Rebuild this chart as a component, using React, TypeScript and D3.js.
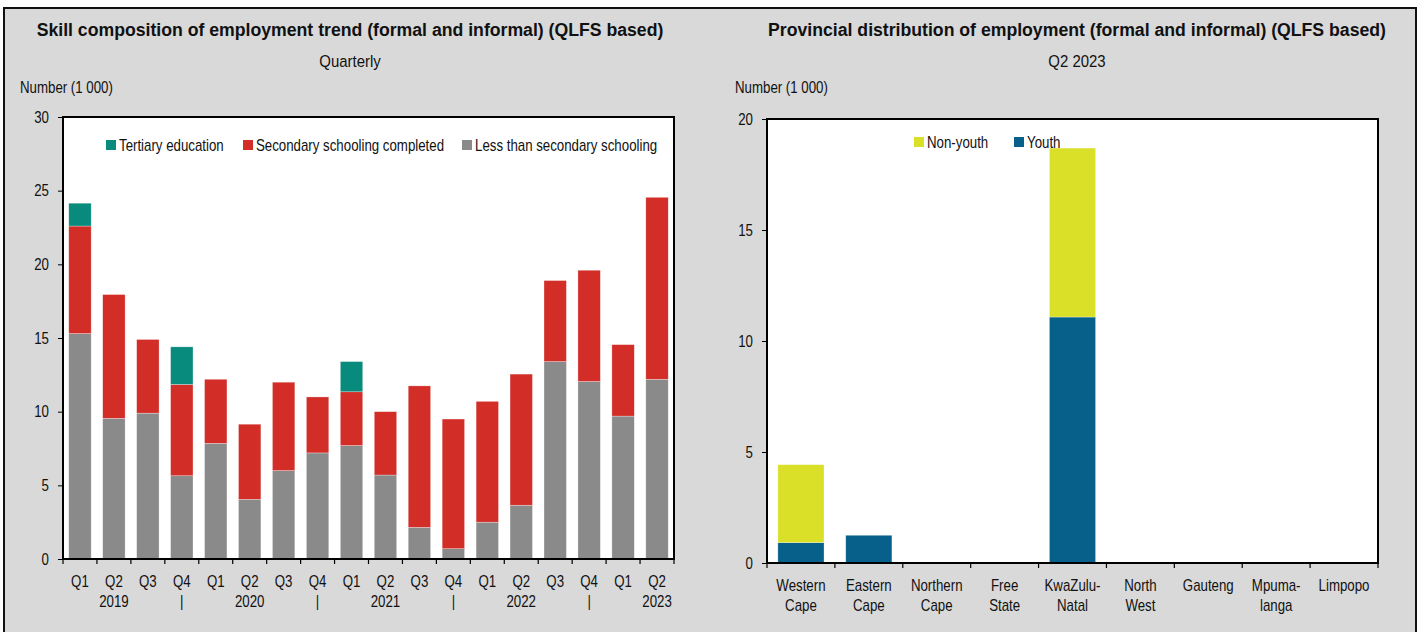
import * as d3 from "d3";
import { useEffect, useRef } from "react";

// ---- left chart data (number, thousands) ----
const quarterLabels = ["Q1", "Q2", "Q3", "Q4", "Q1", "Q2", "Q3", "Q4", "Q1", "Q2", "Q3", "Q4", "Q1", "Q2", "Q3", "Q4", "Q1", "Q2"];
const yearLabels = ["", "2019", "", "|", "", "2020", "", "|", "", "2021", "", "|", "", "2022", "", "|", "", "2023"];
const lessThanSecondary = [15.3, 9.55, 9.9, 5.65, 7.85, 4.05, 6.0, 7.2, 7.7, 5.7, 2.15, 0.7, 2.5, 3.65, 13.4, 12.05, 9.7, 12.2];
const secondaryCompleted = [7.3, 8.4, 5.0, 6.2, 4.35, 5.1, 6.0, 3.8, 3.65, 4.3, 9.6, 8.8, 8.2, 8.9, 5.5, 7.55, 4.85, 12.35];
const tertiary = [1.55, 0, 0, 2.55, 0, 0, 0, 0, 2.05, 0, 0, 0, 0, 0, 0, 0, 0, 0];
const skillTicks = [0, 5, 10, 15, 20, 25, 30];

// ---- right chart data ----
const provinces = ["Western Cape", "Eastern Cape", "Northern Cape", "Free State", "KwaZulu-Natal", "North West", "Gauteng", "Mpumalanga", "Limpopo"];
const provinceLabelLines = [["Western", "Cape"], ["Eastern", "Cape"], ["Northern", "Cape"], ["Free", "State"], ["KwaZulu-", "Natal"], ["North", "West"], ["Gauteng"], ["Mpuma-", "langa"], ["Limpopo"]];
const youth = [0.92, 1.25, 0, 0, 11.08, 0, 0, 0, 0];
const nonYouth = [3.51, 0, 0, 0, 7.61, 0, 0, 0, 0];
const provinceTicks = [0, 5, 10, 15, 20];

// no narrow font installed, so regular Liberation Sans is squeezed horizontally
const FONT = "'Liberation Sans Narrow', 'Arial Narrow', 'Liberation Sans', Arial, sans-serif";
const NARROW = 0.83;

type Sel = d3.Selection<any, unknown, null, undefined>;
type Series = { key: string; values: number[]; color: string };

function ntext(
  parent: Sel,
  x: number,
  y: number,
  str: string,
  size: number,
  anchor = "start",
  sx = NARROW,
  weight = "normal",
) {
  return parent
    .append("text")
    .attr("transform", `translate(${x},${y}) scale(${sx},1)`)
    .attr("text-anchor", anchor)
    .attr("fill", "#111")
    .style("font-size", `${size}px`)
    .style("font-weight", weight)
    .text(str);
}

interface PanelConfig {
  title: string;
  subtitle: string;
  centerX: number;
  unitX: number;
  x0: number;
  x1: number;
  y0: number;
  y1: number;
  yMax: number;
  ticks: number[];
  labelLines: string[][];
  stackSeries: Series[]; // bottom to top
  legend: { key: string; color: string; x: number }[];
  legendY: number;
  padding: number;
}

function drawPanel(svg: Sel, c: PanelConfig) {
  const g = svg.append("g");

  ntext(g, c.centerX, 36, c.title, 19, "middle", 0.93, "bold");
  ntext(g, c.centerX, 67, c.subtitle, 17, "middle", 0.88);
  ntext(g, c.unitX, 93, "Number (1 000)", 16);

  const n = c.labelLines.length;
  const x = d3
    .scaleBand<number>()
    .domain(d3.range(n))
    .range([c.x0, c.x1])
    .paddingInner(c.padding)
    .paddingOuter(c.padding / 2);
  const y = d3.scaleLinear().domain([0, c.yMax]).range([c.y1, c.y0]);

  // plot area
  g.append("rect")
    .attr("x", c.x0)
    .attr("y", c.y0)
    .attr("width", c.x1 - c.x0)
    .attr("height", c.y1 - c.y0)
    .attr("fill", "#ffffff");

  // stacked bars
  const rows = d3.range(n).map((i) => {
    const r: Record<string, number> = { i };
    c.stackSeries.forEach((s) => (r[s.key] = s.values[i]));
    return r;
  });
  const stacked = d3.stack<Record<string, number>>().keys(c.stackSeries.map((s) => s.key))(rows);
  stacked.forEach((layer, li) => {
    g.append("g")
      .selectAll("rect")
      .data(layer.filter((d) => d[1] - d[0] > 0))
      .enter()
      .append("rect")
      .attr("x", (d) => x(d.data.i) as number)
      .attr("width", x.bandwidth())
      .attr("y", (d) => y(d[1]))
      .attr("height", (d) => y(d[0]) - y(d[1]))
      .attr("fill", c.stackSeries[li].color)
      .attr("stroke", "#ffffff")
      .attr("stroke-width", 0.6)
      .attr("stroke-opacity", 0.5);
  });

  // box
  g.append("rect")
    .attr("x", c.x0)
    .attr("y", c.y0)
    .attr("width", c.x1 - c.x0)
    .attr("height", c.y1 - c.y0)
    .attr("fill", "none")
    .attr("stroke", "#000")
    .attr("stroke-width", 2);

  // y axis ticks and labels
  const yAxis = g
    .append("g")
    .attr("transform", `translate(${c.x0},0)`)
    .call(d3.axisLeft(y).tickValues(c.ticks).tickSize(5).tickSizeOuter(0).tickFormat(() => ""));
  yAxis.select(".domain").remove();
  yAxis.selectAll("line").attr("stroke", "#000");
  c.ticks.forEach((t) => ntext(g, c.x0 - 14, y(t) + 5.5, String(t), 16, "end"));

  // x tick marks at category boundaries
  const step = (c.x1 - c.x0) / n;
  g.append("g")
    .selectAll("line")
    .data(d3.range(n + 1))
    .enter()
    .append("line")
    .attr("x1", (d) => c.x0 + d * step)
    .attr("x2", (d) => c.x0 + d * step)
    .attr("y1", c.y1)
    .attr("y2", c.y1 + 5)
    .attr("stroke", "#000")
    .attr("stroke-width", 1.2);

  // x labels
  const lbl = g.append("g");
  c.labelLines.forEach((lines, i) => {
    const cx = (x(i) as number) + x.bandwidth() / 2;
    lines.forEach((line, k) => {
      if (line) ntext(lbl, cx, c.y1 + 28 + k * 20, line, 16, "middle");
    });
  });

  // legend
  const lg = g.append("g");
  c.legend.forEach((item) => {
    lg.append("rect")
      .attr("x", item.x)
      .attr("y", c.legendY - 11)
      .attr("width", 10)
      .attr("height", 10)
      .attr("fill", item.color);
    ntext(lg, item.x + 13, c.legendY, item.key, 16);
  });
}

export default function App() {
  const svgRef = useRef<SVGSVGElement>(null);

  useEffect(() => {
    if (!svgRef.current) return;
    const svg = d3.select(svgRef.current) as Sel;
    svg.selectAll("*").remove();

    // panel background and frame
    svg.append("rect").attr("x", 4).attr("y", 8).attr("width", 1412).attr("height", 640).attr("fill", "#d9d9d9").attr("stroke", "#111").attr("stroke-width", 2);

    const teal = "#088a7d";
    const red = "#d22d27";
    const grey = "#8a8a8a";
    const yellow = "#dadf27";
    const blue = "#07608a";

    drawPanel(svg, {
      title: "Skill composition of employment trend (formal and informal) (QLFS based)",
      subtitle: "Quarterly",
      centerX: 350,
      unitX: 20,
      x0: 63,
      x1: 674,
      y0: 117,
      y1: 559,
      yMax: 30,
      ticks: skillTicks,
      labelLines: quarterLabels.map((q, i) => [q, yearLabels[i]]),
      stackSeries: [
        { key: "Less than secondary schooling", values: lessThanSecondary, color: grey },
        { key: "Secondary schooling completed", values: secondaryCompleted, color: red },
        { key: "Tertiary education", values: tertiary, color: teal },
      ],
      legend: [
        { key: "Tertiary education", color: teal, x: 106 },
        { key: "Secondary schooling completed", color: red, x: 243 },
        { key: "Less than secondary schooling", color: grey, x: 462 },
      ],
      legendY: 151,
      padding: 0.34,
    });

    drawPanel(svg, {
      title: "Provincial distribution of employment (formal and informal) (QLFS based)",
      subtitle: "Q2  2023",
      centerX: 1077,
      unitX: 735,
      x0: 767,
      x1: 1378,
      y0: 119,
      y1: 563,
      yMax: 20,
      ticks: provinceTicks,
      labelLines: provinces.map((_, i) => provinceLabelLines[i]),
      stackSeries: [
        { key: "Youth", values: youth, color: blue },
        { key: "Non-youth", values: nonYouth, color: yellow },
      ],
      legend: [
        { key: "Non-youth", color: yellow, x: 914 },
        { key: "Youth", color: blue, x: 1014 },
      ],
      legendY: 148,
      padding: 0.32,
    });
  }, []);

  return (
    <svg
      ref={svgRef}
      width={1419}
      height={632}
      style={{ position: "absolute", left: 0, top: 0, fontFamily: FONT, whiteSpace: "pre" }}
    />
  );
}
